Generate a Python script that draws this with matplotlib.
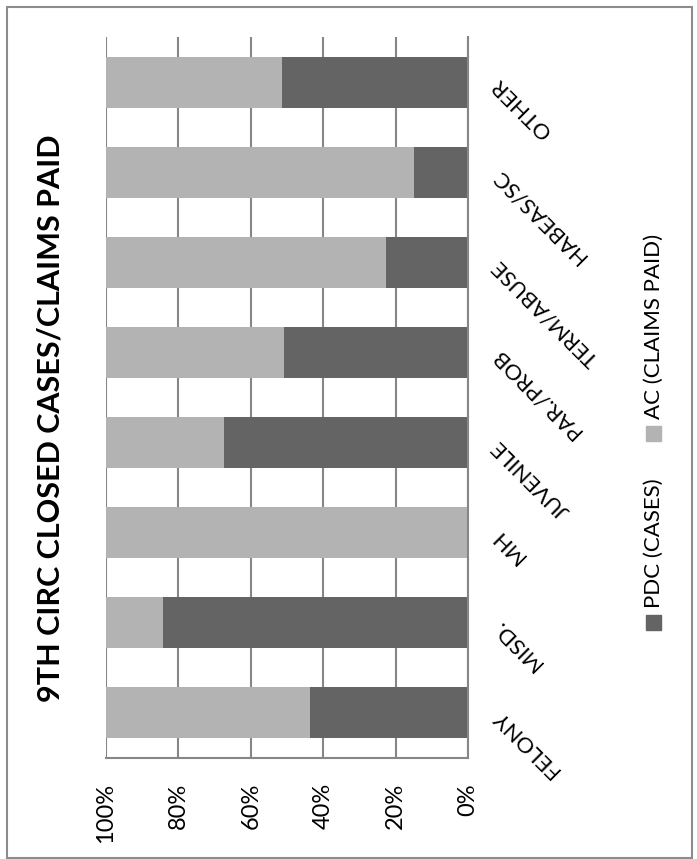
import matplotlib.pyplot as plt
from matplotlib.patches import Rectangle

# Data: share of closed cases by type (PDC cases vs AC claims paid), in %
categories = ["FELONY", "MISD.", "MH", "JUVENILE", "PAR./PROB",
              "TERM/ABUSE", "HABEAS/SC", "OTHER"]
pdc_pct = [43.6, 84.3, 0.0, 67.4, 50.8, 22.7, 14.9, 51.4]
ac_pct = [100 - v for v in pdc_pct]
series_names = ["PDC (CASES)", "AC (CLAIMS PAID)"]
series_colors = ["#646464", "#b3b3b3"]
tick_vals = [0, 20, 40, 60, 80, 100]
tick_labels = ["0%", "20%", "40%", "60%", "80%", "100%"]
title = "9TH CIRC CLOSED CASES/CLAIMS PAID"

plt.rcParams['font.family'] = ['Lato', 'DejaVu Sans']

W, H = 697, 859
fig = plt.figure(figsize=(W / 100, H / 100), dpi=100)

# axes placed in pixel terms of the reference
left, right, top, bottom = 106, 468, 37, 758
ax = fig.add_axes([left / W, 1 - bottom / H, (right - left) / W, (bottom - top) / H])

ypos = list(range(len(categories)))
ax.barh(ypos, pdc_pct, height=0.565, color=series_colors[0], zorder=2)
ax.barh(ypos, ac_pct, left=pdc_pct, height=0.565, color=series_colors[1], zorder=2)

ax.set_xlim(100, 0)
ax.set_ylim(-0.5, len(categories) - 0.5)
ax.set_xticks(tick_vals)
ax.set_xticklabels(tick_labels, rotation=90, fontsize=17, va='top')
ax.tick_params(axis='x', length=0, pad=18)
ax.set_yticks([])
ax.grid(axis='x', color='#868686', linewidth=1.5, zorder=0)
ax.set_axisbelow(True)
for s in ['top', 'left']:
    ax.spines[s].set_visible(False)
for s in ['bottom', 'right']:
    ax.spines[s].set_color('#868686')
    ax.spines[s].set_linewidth(1.5)

# category labels, rotated like the source chart
tr = ax.get_yaxis_transform()
for y, name in zip(ypos, categories):
    ax.text(1.075, y, name, transform=tr, rotation=135, rotation_mode='anchor',
            ha='right', va='center', fontsize=16, clip_on=False)

# title along the left edge
fig.text(51 / W, 1 - 418 / H, title, rotation=90, ha='center', va='center',
         fontsize=22, fontweight='bold')

# legend drawn vertically on the right
leg_x = 653
for name, color, yc in zip(series_names, series_colors, [622, 433]):
    fig.patches.append(Rectangle(((leg_x - 7.5) / W, 1 - (yc + 7.5) / H), 15 / W, 15 / H,
                                 transform=fig.transFigure, color=color))
    fig.text((leg_x + 1) / W, 1 - (yc - 14) / H, name, rotation=90,
             ha='center', va='bottom', fontsize=16)

# outer chart border
fig.patches.append(Rectangle((7 / W, 1 / H), 685 / W, 851 / H, transform=fig.transFigure,
                             fill=False, edgecolor='#8c8c8c', linewidth=1.5))

fig.savefig("out.png", dpi=100)
